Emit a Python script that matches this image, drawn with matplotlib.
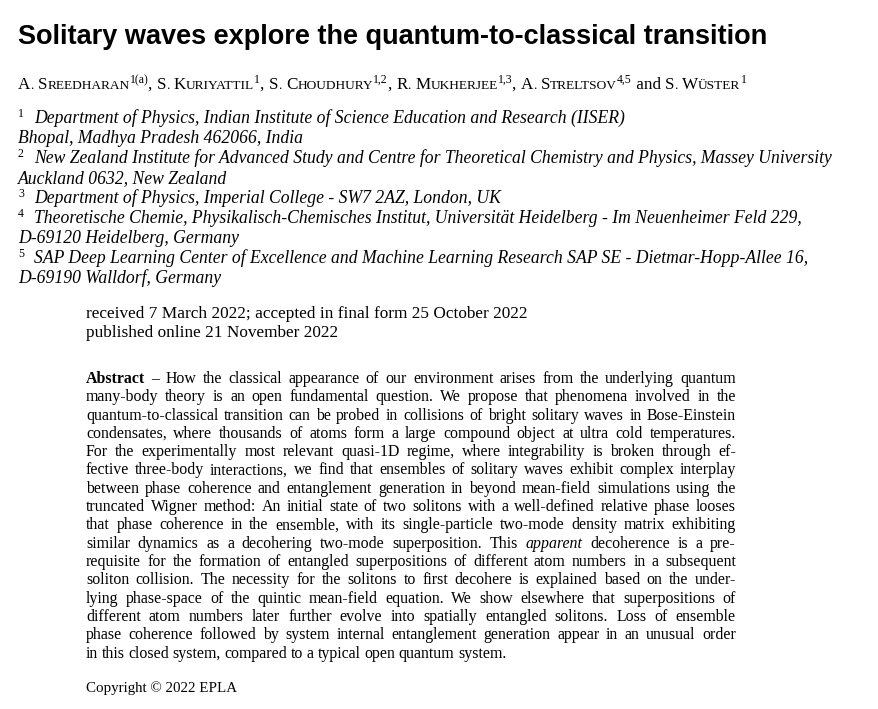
import matplotlib
matplotlib.use('Agg')
import matplotlib.pyplot as plt

W, H = 879, 709
SERIF = 'Liberation Serif'

title = 'Solitary waves explore the quantum-to-classical transition'
# (name, superscript) pairs; names are set in small caps below
authors = [('A. Sreedharan', '1(a)'), ('S. Kuriyattil', '1'), ('S. Choudhury', '1,2'),
           ('R. Mukherjee', '1,3'), ('A. Streltsov', '4,5'), ('S. Wüster', '1')]
affiliations = [
    ('1', 'Department of Physics, Indian Institute of Science Education and Research (IISER)'),
    ('', 'Bhopal, Madhya Pradesh 462066, India'),
    ('2', 'New Zealand Institute for Advanced Study and Centre for Theoretical Chemistry and Physics, Massey University'),
    ('', 'Auckland 0632, New Zealand'),
    ('3', 'Department of Physics, Imperial College - SW7 2AZ, London, UK'),
    ('4', 'Theoretische Chemie, Physikalisch-Chemisches Institut, Universität Heidelberg - Im Neuenheimer Feld 229,'),
    ('', 'D-69120 Heidelberg, Germany'),
    ('5', 'SAP Deep Learning Center of Excellence and Machine Learning Research SAP SE - Dietmar-Hopp-Allee 16,'),
    ('', 'D-69190 Walldorf, Germany'),
]
dates = ['received 7 March 2022; accepted in final form 25 October 2022',
         'published online 21 November 2022']
abstract = [
    '*Abstract* – How the classical appearance of our environment arises from the underlying quantum',
    'many-body theory is an open fundamental question. We propose that phenomena involved in the',
    'quantum-to-classical transition can be probed in collisions of bright solitary waves in Bose-Einstein',
    'condensates, where thousands of atoms form a large compound object at ultra cold temperatures.',
    'For the experimentally most relevant quasi-1D regime, where integrability is broken through ef-',
    'fective three-body interactions, we find that ensembles of solitary waves exhibit complex interplay',
    'between phase coherence and entanglement generation in beyond mean-field simulations using the',
    'truncated Wigner method: An initial state of two solitons with a well-defined relative phase looses',
    'that phase coherence in the ensemble, with its single-particle two-mode density matrix exhibiting',
    'similar dynamics as a decohering two-mode superposition. This _apparent_ decoherence is a pre-',
    'requisite for the formation of entangled superpositions of different atom numbers in a subsequent',
    'soliton collision. The necessity for the solitons to first decohere is explained based on the under-',
    'lying phase-space of the quintic mean-field equation. We show elsewhere that superpositions of',
    'different atom numbers later further evolve into spatially entangled solitons. Loss of ensemble',
    'phase coherence followed by system internal entanglement generation appear in an unusual order',
    'in this closed system, compared to a typical open quantum system.',
]
copyright_line = 'Copyright © 2022 EPLA'

fig = plt.figure(figsize=(W / 100, H / 100), dpi=100)
fig.patch.set_facecolor('white')
renderer = fig.canvas.get_renderer()


def px(x, y):
    return x / W, 1 - y / H


def runs(x, y, parts):
    # parts: (text, fontsize, dy, extra kw); drawn left to right
    for text, size, dy, kw in parts:
        t = fig.text(*px(x, y + dy), text, family=SERIF, fontsize=size, va='baseline', **kw)
        x += t.get_window_extent(renderer).width
    return x


fig.text(*px(18, 44), title, family='Liberation Sans', weight='bold', fontsize=19.5, va='baseline')

# authors in small caps
parts = []
for i, (name, sup) in enumerate(authors):
    for j, word in enumerate(name.split(' ')):
        if j:
            parts.append((' ', 12.3, 0, {}))
        parts.append((word[0], 12.3, 0, {}))
        if len(word) > 1:
            parts.append((word[1:].upper(), 9.6, 0, {}))
    parts.append((sup, 8.5, -6, {}))
    if i < len(authors) - 2:
        parts.append((', ', 12.3, 0, {}))
    elif i == len(authors) - 2:
        parts.append((' and ', 12.3, 0, {}))
runs(18, 89, parts)

for i, (sup, line) in enumerate(affiliations):
    y = 123 + 20 * i
    if sup:
        fig.text(*px(18, y - 6), sup, family=SERIF, fontsize=8.5, va='baseline')
    fig.text(*px(34 if sup else 18, y), line, family=SERIF, style='italic', fontsize=12.7, va='baseline')

for i, line in enumerate(dates):
    fig.text(*px(86, 318 + 19 * i), line, family=SERIF, fontsize=12.4, va='baseline')

# justified abstract, word by word
left, right = 86, 736
for i, line in enumerate(abstract):
    y = 383 + 18.3 * i
    words = line.split(' ')
    arts = []
    for w in words:
        kw = dict(family=SERIF, fontsize=11.4, va='baseline')
        if w.startswith('*'):
            kw['weight'] = 'bold'
        if w.startswith('_'):
            kw['style'] = 'italic'
        arts.append(fig.text(*px(left, y), w.strip('*_'), **kw))
    widths = [a.get_window_extent(renderer).width for a in arts]
    last = i == len(abstract) - 1
    gap = 3.6 if last or len(arts) < 2 else (right - left - sum(widths)) / (len(arts) - 1)
    x = left
    for a, wd in zip(arts, widths):
        a.set_position(px(x, y))
        x += wd + gap

fig.text(*px(86, 692), copyright_line, family=SERIF, fontsize=10.8, va='baseline')

fig.savefig('out.png', dpi=100)
